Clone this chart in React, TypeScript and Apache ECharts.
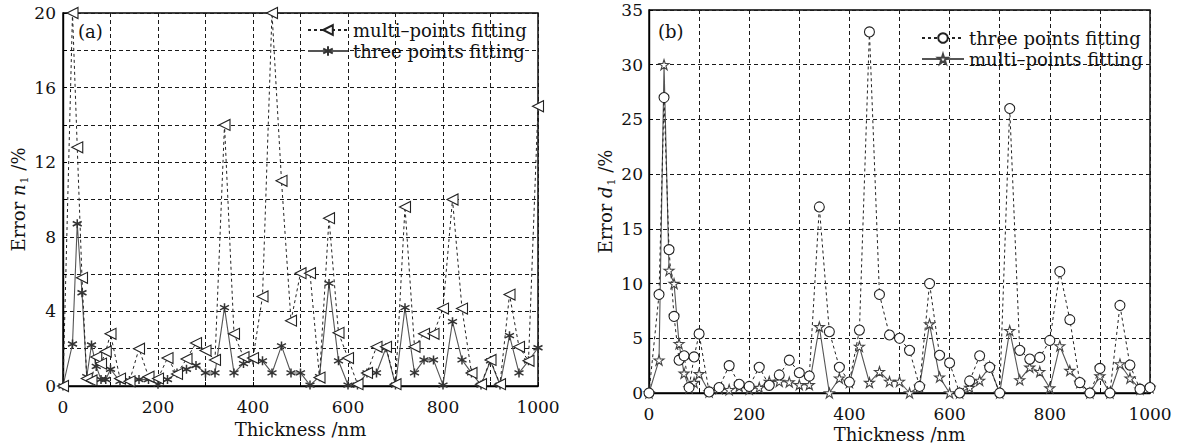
import React, { useEffect, useRef } from 'react';
import * as echarts from 'echarts';

// Thickness (nm) sample points shared by both panels
const thickness = [0, 20, 30, 40, 50, 60, 70, 80, 90, 100, 120, 140, 160, 180, 200, 220, 240, 260, 280, 300, 320, 340, 360, 380, 400, 420, 440, 460, 480, 500, 520, 540, 560, 580, 600, 620, 640, 660, 680, 700, 720, 740, 760, 780, 800, 820, 840, 860, 880, 900, 920, 940, 960, 980, 1000];

// (a) Error n1 /%
const nMulti = [0, 20, 12.8, 5.8, 0.4, 0.3, 1.55, 1.2, 1.85, 2.8, 0.4, 0.25, 2.0, 0.5, 0.4, 1.5, 0.65, 1.45, 2.3, 1.9, 1.4, 14, 2.8, 1.55, 1.5, 4.8, 20, 11, 3.5, 6.05, 6.05, 0.45, 9, 2.85, 1.5, 0.1, 0.7, 2.1, 2.1, 0.1, 9.6, 2.1, 2.8, 2.8, 4.15, 10, 4.15, 0.7, 0.1, 1.4, 0.1, 4.9, 2.1, 1.35, 15];
const nThree = [0, 2.25, 8.7, 5.0, 0.5, 2.2, 1.05, 0.35, 0.35, 0.9, 0.25, 0.3, 0.35, 0.35, 0.1, 0.35, 0.7, 0.9, 1.1, 0.7, 0.7, 4.2, 0.7, 1.2, 1.4, 1.35, 0.7, 2.15, 0.7, 0.7, 0.05, 0.5, 5.5, 1.35, 0.05, 0.05, 0.7, 0.7, 2.05, 0.05, 4.2, 0.7, 1.4, 1.4, 0.05, 3.45, 1.4, 0.7, 0.05, 1.35, 0.05, 2.7, 0.7, 1.35, 2.05];

// (b) Error d1 /%
const dThree = [0, 9, 27, 13.1, 7, 3, 3.4, 0.5, 3.3, 5.4, 0.1, 0.5, 2.5, 0.8, 0.6, 2.35, 0.7, 1.65, 3.0, 1.85, 1.55, 17, 5.6, 2.35, 1.0, 5.75, 33, 9, 5.3, 5.0, 3.9, 0.6, 10, 3.45, 2.75, 0, 1.1, 3.4, 2.35, 0, 26, 3.9, 3.1, 3.25, 4.8, 11.1, 6.7, 0.95, 0, 2.25, 0, 8, 2.55, 0.35, 0.5];
const dMulti = [0, 3, 30, 11.2, 10, 4.5, 1.8, 0.45, 0.95, 1.75, 0.1, 0.4, 0.3, 0.6, 0.35, 0.5, 1.05, 1.05, 1.0, 0.75, 0.75, 6.05, 0, 1.35, 0.95, 4.25, 0.95, 1.95, 1.05, 1.05, 0, 0.6, 6.3, 1.45, 0, 0, 0.5, 1.15, 2.4, 0, 5.7, 1.2, 2.35, 1.95, 0.45, 4.3, 2.05, 0.95, 0, 1.55, 0, 2.65, 1.35, 0.35, 0.5];

const xLabelTicks = [0, 200, 400, 600, 800, 1000];
const yLabelTicksA = [0, 4, 8, 12, 16, 20];
const yLabelTicksB = [0, 5, 10, 15, 20, 25, 30, 35];

const nameMulti = 'multi\u2013points fitting';
const nameThree = 'three points fitting';

const FONT = 'DejaVu Serif';
const INK = '#111';
const STAR5 = 'path://M50,0 L61.2,34.5 L97.6,34.5 L68.2,55.9 L79.4,90.5 L50,69.1 L20.6,90.5 L31.8,55.9 L2.4,34.5 L38.8,34.5 Z';
const ASTER = 'path://M0,-5L0,5M-4.33,-2.5L4.33,2.5M-4.33,2.5L4.33,-2.5';

const pairs = (ys: number[]) => thickness.map((x, i) => [x, ys[i]]);

const gridLine = () => ({ show: true, lineStyle: { type: [4, 3], color: '#1a1a1a', width: 1 } });

function buildOption(p: {
  grid: any; yMax: number; yInterval: number; yTicks: number[]; yName: string; nameGapY: number;
  nameGapX: number; yLabelMargin: number; panel: string; panelPos: [number, number];
  legend: any; series: any[];
}) {
  return {
    animation: false,
    backgroundColor: '#fff',
    textStyle: { fontFamily: FONT },
    grid: { ...p.grid, outerBoundsMode: 'none', containLabel: false, show: true, borderColor: '#000', borderWidth: 1.4, backgroundColor: 'transparent' },
    legend: p.legend,
    graphic: [
      { type: 'text', left: p.panelPos[0], top: p.panelPos[1], style: { text: p.panel, font: `18px "${FONT}"`, fill: INK } },
    ],
    xAxis: {
      type: 'value', min: 0, max: 1000, interval: 100,
      name: 'Thickness /nm', nameLocation: 'middle', nameGap: p.nameGapX, nameMoveOverlap: false,
      nameTextStyle: { fontFamily: FONT, fontSize: 18, color: INK },
      axisLine: { show: true, lineStyle: { color: '#000', width: 1.4 } },
      axisTick: { show: true, inside: true, length: 4, lineStyle: { color: '#000' } },
      axisLabel: { margin: 12, fontFamily: FONT, fontSize: 17, color: INK, formatter: (v: number) => (xLabelTicks.includes(v) ? String(v) : '') },
      splitLine: gridLine(),
    },
    yAxis: {
      type: 'value', min: 0, max: p.yMax, interval: p.yInterval,
      name: p.yName, nameLocation: 'middle', nameGap: p.nameGapY, nameRotate: 90, nameMoveOverlap: false,
      nameTextStyle: {
        fontFamily: FONT, fontSize: 18, color: INK,
        rich: {
          t: { fontFamily: FONT, fontSize: 18, lineHeight: 22, color: INK },
          i: { fontFamily: FONT, fontSize: 18, lineHeight: 22, color: INK, fontStyle: 'italic' },
          s: { fontFamily: FONT, fontSize: 11, lineHeight: 11, color: INK, padding: [13, 0, 0, 1] },
        },
      },
      axisLine: { show: true, lineStyle: { color: '#000', width: 1.4 } },
      axisTick: { show: true, inside: true, length: 4, lineStyle: { color: '#000' } },
      axisLabel: { margin: p.yLabelMargin, fontFamily: FONT, fontSize: 17, color: INK, formatter: (v: number) => (p.yTicks.includes(v) ? String(v) : '') },
      splitLine: gridLine(),
    },
    series: p.series,
  };
}

const optionA = buildOption({
  grid: { left: 63, top: 13, width: 475, height: 373 },
  yMax: 20, yInterval: 2, yTicks: yLabelTicksA,
  yName: '{t|Error }{i|n}{s|1}{t| /%}', nameGapY: 34, nameGapX: 34, yLabelMargin: 7,
  panel: '(a)', panelPos: [78, 22],
  legend: {
    orient: 'vertical', left: 307, top: 21, itemWidth: 40, itemHeight: 12, itemGap: 3, padding: 0,
    textStyle: { fontFamily: FONT, fontSize: 18, color: INK },
    data: [nameMulti, nameThree],
  },
  series: [
    {
      name: nameThree, type: 'line', data: pairs(nThree), symbol: ASTER, symbolSize: 9,
      lineStyle: { color: '#555', width: 1.1 },
      itemStyle: { color: '#444', borderColor: '#333', borderWidth: 1.5 },
    },
    {
      name: nameMulti, type: 'line', data: pairs(nMulti), symbol: 'triangle', symbolRotate: 90, symbolSize: 11,
      lineStyle: { color: '#222', width: 1, type: [3, 3] },
      itemStyle: { color: '#fff', borderColor: '#222', borderWidth: 1.1 },
    },
  ],
});

const optionB = buildOption({
  grid: { left: 89, top: 10, width: 501, height: 383 },
  yMax: 35, yInterval: 5, yTicks: yLabelTicksB,
  yName: '{t|Error }{i|d}{s|1}{t| /%}', nameGapY: 33, nameGapX: 32, yLabelMargin: 6,
  panel: '(b)', panelPos: [98, 22],
  legend: {
    orient: 'vertical', left: 361, top: 29, itemWidth: 42, itemHeight: 12, itemGap: 3, padding: 0,
    textStyle: { fontFamily: FONT, fontSize: 18, color: INK },
    data: [nameThree, nameMulti],
  },
  series: [
    {
      name: nameMulti, type: 'line', data: pairs(dMulti), symbol: STAR5, symbolSize: 10,
      lineStyle: { color: '#555', width: 1.1 },
      itemStyle: { color: '#fff', borderColor: '#444', borderWidth: 1.1 },
    },
    {
      name: nameThree, type: 'line', data: pairs(dThree), symbol: 'circle', symbolSize: 10,
      lineStyle: { color: '#222', width: 1, type: [3, 3] },
      itemStyle: { color: '#fff', borderColor: '#222', borderWidth: 1.1 },
    },
  ],
});

function Chart({ option, style }: { option: any; style: React.CSSProperties }) {
  const ref = useRef<HTMLDivElement>(null);
  useEffect(() => {
    if (!ref.current) return;
    const chart = echarts.init(ref.current, null, { renderer: 'svg' });
    chart.setOption(option);
    return () => chart.dispose();
  }, [option]);
  return <div ref={ref} style={style} />;
}

export default function App() {
  return (
    <div style={{ position: 'fixed', left: 0, top: 0, width: 1182, height: 447, background: '#fff' }}>
      <Chart option={optionA} style={{ position: 'absolute', left: 0, top: 0, width: 560, height: 447 }} />
      <Chart option={optionB} style={{ position: 'absolute', left: 560, top: 0, width: 622, height: 447 }} />
    </div>
  );
}
